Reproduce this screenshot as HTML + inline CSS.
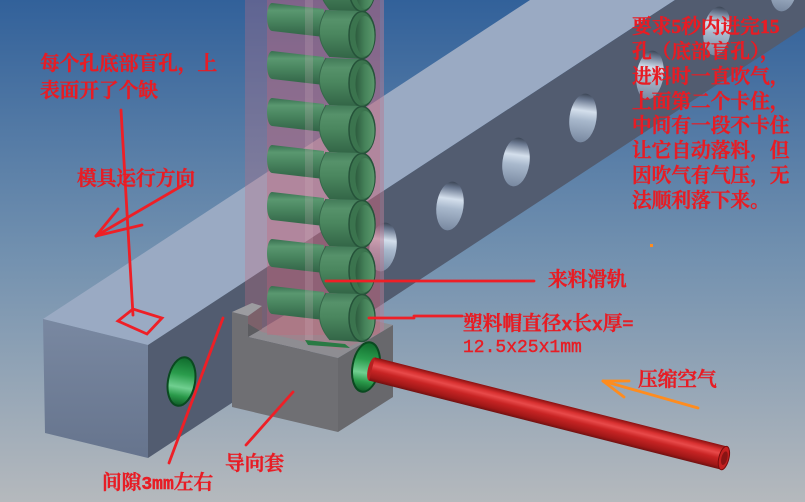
<!DOCTYPE html>
<html><head><meta charset="utf-8"><style>
html,body{margin:0;padding:0;width:805px;height:502px;overflow:hidden;background:#7190af}
svg{display:block}
.t{font-family:"Liberation Serif","Noto Serif CJK SC",serif;font-size:19.7px;font-weight:600;fill:#e81c24;stroke:#e81c24;stroke-width:0.55px}
.m{font-family:"Liberation Mono","Noto Serif CJK SC",monospace;font-size:18px;fill:#e81c24;stroke:#e81c24;stroke-width:0.4px}
</style></head><body>
<svg width="805" height="502" viewBox="0 0 805 502" xmlns="http://www.w3.org/2000/svg">
<defs>
 <linearGradient id="bg" x1="0" y1="0" x2="0" y2="1">
  <stop offset="0" stop-color="#32619a"/>
  <stop offset="0.5" stop-color="#7190af"/>
  <stop offset="1" stop-color="#b5b9bd"/>
 </linearGradient>
 <linearGradient id="endf" x1="0" y1="0" x2="0" y2="1">
  <stop offset="0" stop-color="#7988a1"/>
  <stop offset="1" stop-color="#66748d"/>
 </linearGradient>
 <linearGradient id="hole" x1="0" y1="0" x2="0" y2="1">
  <stop offset="0" stop-color="#3c4656"/>
  <stop offset="0.12" stop-color="#6a7890"/>
  <stop offset="0.35" stop-color="#d4dfec"/>
  <stop offset="0.55" stop-color="#a8b8cc"/>
  <stop offset="1" stop-color="#7888a0"/>
 </linearGradient>
 <linearGradient id="tube" x1="0" y1="0" x2="0" y2="1">
  <stop offset="0" stop-color="#8a1010"/>
  <stop offset="0.2" stop-color="#d83030"/>
  <stop offset="0.35" stop-color="#e84a4a"/>
  <stop offset="0.55" stop-color="#c82424"/>
  <stop offset="0.85" stop-color="#a01818"/>
  <stop offset="1" stop-color="#701010"/>
 </linearGradient>
 <linearGradient id="stem" x1="0" y1="0" x2="0" y2="1">
  <stop offset="0" stop-color="#387050"/>
  <stop offset="0.22" stop-color="#5a9870"/>
  <stop offset="0.5" stop-color="#4a8660"/>
  <stop offset="1" stop-color="#316346"/>
 </linearGradient>
 <linearGradient id="cup" x1="0" y1="0" x2="0" y2="1">
  <stop offset="0" stop-color="#427a58"/>
  <stop offset="0.2" stop-color="#56926a"/>
  <stop offset="0.5" stop-color="#4a865e"/>
  <stop offset="1" stop-color="#326446"/>
 </linearGradient>
 <linearGradient id="inner" x1="0" y1="0" x2="1" y2="0">
  <stop offset="0" stop-color="#2d5c3e"/>
  <stop offset="0.5" stop-color="#46835a"/>
  <stop offset="1" stop-color="#5a986c"/>
 </linearGradient>
 <linearGradient id="ring" x1="0" y1="0" x2="0" y2="1">
  <stop offset="0" stop-color="#0f6a2c"/>
  <stop offset="0.35" stop-color="#2a9c4c"/>
  <stop offset="0.62" stop-color="#70cf90"/>
  <stop offset="0.8" stop-color="#2a9a4a"/>
  <stop offset="1" stop-color="#0e5a26"/>
 </linearGradient>
 <g id="cap">
  <path d="M272,-32 L324,-26 L324,2 L272,-4 A5,14 0 0 1 272,-32 Z" fill="url(#stem)"/>
  <path d="M326,-25 L362,-24 L362,24 L330,22 Q311,0 326,-25 Z" fill="url(#cup)"/>
  <path d="M326,-25 Q311,0 330,22" fill="none" stroke="#36684a" stroke-width="1"/>
  <ellipse cx="362" cy="0" rx="13" ry="23.5" fill="#3b744e" stroke="#26533a" stroke-width="1.5"/>
  <ellipse cx="365" cy="1" rx="9.5" ry="20" fill="url(#inner)"/>
 </g>
</defs>

<!-- background -->
<rect x="0" y="0" width="805" height="502" fill="url(#bg)"/>

<!-- beam -->
<polygon points="43,319 148,345 675,0 530,0" fill="#9aaac3"/>
<polygon points="148,345 675,0 805,0 805,27 148,458" fill="#525c70"/>
<polygon points="43,319 148,345 148,458 45,433" fill="url(#endf)"/>

<!-- holes -->
<g fill="url(#hole)">
 <ellipse cx="450" cy="206" rx="13.5" ry="24.5" transform="rotate(8 450 206)"/>
 <ellipse cx="516" cy="162" rx="13.5" ry="24.5" transform="rotate(8 516 162)"/>
 <ellipse cx="583" cy="118" rx="13.5" ry="24.5" transform="rotate(8 583 118)"/>
 <ellipse cx="650" cy="75" rx="13.5" ry="24.5" transform="rotate(8 650 75)"/>
 <ellipse cx="717" cy="31" rx="13.5" ry="24.5" transform="rotate(8 717 31)"/>
 <ellipse cx="784" cy="-13" rx="13.5" ry="24.5" transform="rotate(8 784 -13)"/>
 <ellipse cx="383" cy="247" rx="13.5" ry="24.5" transform="rotate(8 383 247)"/>
</g>

<!-- left green ring -->
<ellipse cx="181.5" cy="381.5" rx="13.5" ry="24.5" transform="rotate(10 181.5 381.5)" fill="url(#ring)" stroke="#0a4a20" stroke-width="2"/>

<!-- guide sleeve inner surfaces -->
<polygon points="248,337 338,358 393,325 303,304" fill="#8e8d92"/>
<polygon points="248,316 262,306 262,329 248,337" fill="#5c5c60"/>

<!-- pink column -->
<polygon points="245,0 384,0 384,333 340,350 262,332 245,322" fill="#c86e82" opacity="0.3"/>
<rect x="267" y="0" width="113" height="335" fill="#c86478" opacity="0.32"/>

<!-- caps -->
<use href="#cap" y="-12"/>
<use href="#cap" y="35"/>
<use href="#cap" y="83"/>
<use href="#cap" y="130"/>
<use href="#cap" y="177"/>
<use href="#cap" y="224"/>
<use href="#cap" y="271"/>
<use href="#cap" y="318"/>
<polygon points="305,340 345,344 350,348 308,345" fill="#2a7a44"/>

<!-- rail stripe -->
<rect x="305" y="0" width="8" height="340" fill="#d8b8c4" opacity="0.2"/>
<rect x="380" y="0" width="4" height="333" fill="#a88aa4" opacity="0.3"/>

<!-- guide sleeve front -->
<polygon points="232,312 248,316 248,337 338,358 338,432 232,407" fill="#6f6f73"/>
<polygon points="232,312 252,303 262,306 248,316" fill="#9c9ca0"/>
<polygon points="338,358 393,325 393,397 338,432" fill="#68686c"/>

<!-- right green ring -->
<ellipse cx="366" cy="367" rx="13.5" ry="25" transform="rotate(10 366 367)" fill="url(#ring)" stroke="#0a4a20" stroke-width="2"/>

<!-- tube -->
<g transform="translate(372,369) rotate(14.2)">
 <ellipse cx="0" cy="0" rx="4" ry="12" fill="#b82020"/>
 <rect x="0" y="-12" width="363" height="24" fill="url(#tube)"/>
 <ellipse cx="363" cy="0" rx="5" ry="12" fill="#c42020" stroke="#7a0c0c" stroke-width="1"/>
 <ellipse cx="363.5" cy="0" rx="3" ry="7" fill="#8a1414"/>
</g>

<!-- red annotation lines -->
<g stroke="#ee1f26" stroke-width="2.8" fill="none" stroke-linecap="round">
 <line x1="121" y1="110" x2="133" y2="315"/>
 <polygon points="118,321 133,309 162,318 147,334"/>
 <line x1="185" y1="184" x2="96" y2="236"/>
 <line x1="96" y1="236" x2="118" y2="209"/>
 <line x1="96" y1="236" x2="142" y2="225"/>
 <line x1="169" y1="463" x2="223" y2="318"/>
 <line x1="246" y1="445" x2="293" y2="392"/>
 <line x1="326" y1="281" x2="534" y2="281"/>
 <line x1="369" y1="318" x2="414" y2="318"/>
 <line x1="414" y1="316" x2="462" y2="316"/>
</g>
<!-- orange arrow -->
<g stroke="#ff8c1e" stroke-width="2.8" fill="none" stroke-linecap="round">
 <line x1="698" y1="408" x2="603" y2="381"/>
 <line x1="603" y1="381" x2="629" y2="381"/>
 <line x1="603" y1="381" x2="624" y2="397"/>
</g>
<rect x="650" y="244" width="3" height="3" fill="#ff8c1e"/>

<!-- texts -->
<text class="t" x="40" y="70">每个孔底部盲孔，上</text>
<text class="t" x="40" y="97">表面开了个缺</text>
<text class="t" x="77" y="185">模具运行方向</text>

<text class="t" x="632" y="33">要求5秒内进完15</text>
<text class="t" x="632" y="58">孔（底部盲孔），</text>
<text class="t" x="632" y="83">进料时一直吹气，</text>
<text class="t" x="632" y="108">上面第二个卡住，</text>
<text class="t" x="632" y="132">中间有一段不卡住</text>
<text class="t" x="632" y="157">让它自动落料，但</text>
<text class="t" x="632" y="182">因吹气有气压，无</text>
<text class="t" x="632" y="207">法顺利落下来。</text>

<text class="t" x="548" y="286">来料滑轨</text>
<text class="t" x="463" y="330">塑料帽直径<tspan class="m" font-size="17px">x</tspan>长<tspan class="m" font-size="17px">x</tspan>厚=</text>
<text class="m" x="463" y="352">12.5x25x1mm</text>
<text class="t" x="638" y="386">压缩空气</text>
<text class="t" x="225" y="470">导向套</text>
<text class="t" x="102" y="489">间隙<tspan class="m" font-size="17px">3mm</tspan>左右</text>
</svg>
</body></html>
